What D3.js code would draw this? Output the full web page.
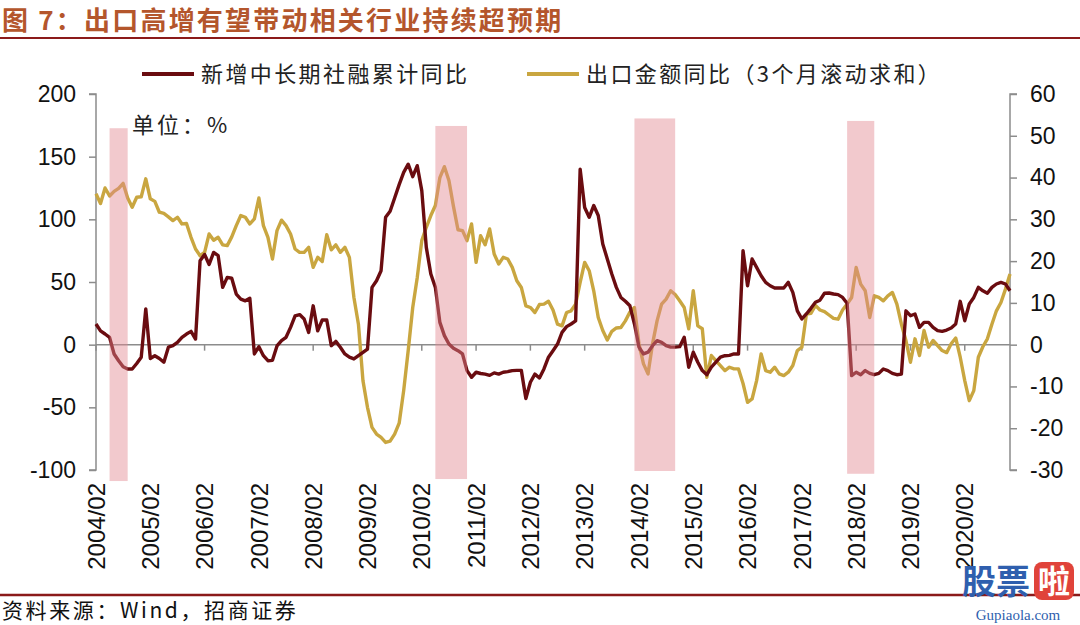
<!DOCTYPE html>
<html>
<head>
<meta charset="utf-8">
<script src="https://cdn.jsdelivr.net/npm/d3@7"></script>
<style>
  body { margin: 0; background: #fff; }
  svg { display: block; }
</style>
</head>
<body>
<div id="chart"></div>
<script>
const w = 1080;
const h = 625;

// month categories 2004/02 .. 2020/12
const months = [];
for (let y = 2004; y <= 2020; y++) {
    for (let m = (y === 2004 ? 2 : 1); m <= 12; m++) {
        months.push(y + "/" + String(m).padStart(2, "0"));
    }
}

const tickLabels = ["2004/02", "2005/02", "2006/02", "2007/02", "2008/02", "2009/02", "2010/02", "2011/02",
    "2012/02", "2013/02", "2014/02", "2015/02", "2016/02", "2017/02", "2018/02", "2019/02", "2020/02"];

const leftTicks = [200, 150, 100, 50, 0, -50, -100];
const rightTicks = [60, 50, 40, 30, 20, 10, 0, -10, -20, -30];

// 新增中长期社融累计同比 (left axis, %)
const socialFinancing = [
    16.5, 11, 8.5, 5.8, -7.4, -12.8, -17.6, -19.4, -19.4, -15, -10, 28.5,
    -11, -8.8, -11, -14, -2, -0.8, 1.9, 5.9, 8.5, 10.6, 4.5, 67,
    72, 64, 73.6, 71, 45.7, 53.7, 53, 40.4, 36.4, 35, 37, -7.4,
    -1.6, -8.8, -12.8, -12.5, -1, 3.2, 5.9, 13.8, 23, 24, 20.5, 9.8,
    31, 11, 19.7, 19.7, -0.8, 2.6, -2.1, -7.4, -10, -11.4, -8.8, -6.1,
    -3.5, 45.7, 51, 59, 101.6, 106.4, 117, 127.7, 137.5, 144, 134, 142.8,
    122.9, 77.6, 56.4, 45.7, 17.8, 7.2, 0.5, -2.9, -4.8, -7.4, -20.7, -26,
    -22, -23, -23.5, -24.5, -22.5, -23.5, -22, -21.5, -20.7, -20.5, -20.5, -43,
    -30, -23.5, -26.6, -19.4, -10, -4.8, 0.5, 9.8, 14.4, 16.5, 19, 140,
    109.5, 101.6, 111, 103, 80.3, 68.4, 56.4, 45.7, 37.7, 34.6, 31, 16.5,
    -2, -7.4, -6, -0.8, 3.2, 1.9, -0.8, -2, -2, -1.6, 5.9, -18,
    -6, -14, -20.7, -24, -18, -14, -10, -8.8, -8.5, -7.4, -7.4, 75,
    47, 68.4, 61.7, 55, 49.7, 47, 45.2, 45.2, 45.2, 49.7, 41.7, 27,
    20.5, 24.5, 29, 33.8, 35.5, 41, 41.2, 40.4, 39.9, 37.7, 33, -24.7,
    -22, -24, -20.7, -22.9, -24, -22.9, -19.4, -20.7, -22.9, -24, -23.5, 27,
    23.1, 24.5, 13.8, 17.8, 17.8, 13.8, 11.2, 10.6, 11.7, 13.3, 16.5, 34.6,
    19.1, 32.5, 37.7, 45.7, 43, 41, 45.7, 48.4, 49.7, 48.4, 43
];

// 出口金额同比（3个月滚动求和） (right axis, %)
const exportYoY = [
    36.1, 33.8, 37.5, 35.6, 36.7, 37.4, 38.6, 35.1, 32.9, 35.3, 35.4, 39.7,
    34.9, 34.3, 31.7, 31.4, 30.6, 29.7, 30.5, 28.9, 29, 25.7, 22.9, 21.3,
    22.1, 26.5, 25, 25.7, 23.9, 23.7, 25.8, 28.5, 30.9, 30.5, 28.9, 30.1,
    35.1, 28.5, 25.7, 20.5, 27.3, 29.8, 28.5, 26.5, 22.9, 22.1, 22.1, 23.3,
    18.5, 20.9, 19.9, 26.3, 22.7, 23.9, 22.1, 23.3, 20.9, 11.3, 4.9, -8.6,
    -15, -19.8, -21.4, -22.2, -23.4, -23.1, -21.4, -18.8, -11, -1.4, 8.9, 16.1,
    24.9, 28.1, 30.9, 33.3, 40, 42.6, 39.3, 33.1, 27.5, 27.3, 24.9, 28.9,
    19.7, 26.1, 23.9, 27.7, 21.7, 19.3, 20.9, 20.5, 18.5, 15.3, 13.7, 9.3,
    8.9, 7.7, 9.6, 9.7, 10.4, 8.3, 4.9, 4.5, 7.7, 8.1, 9.7, 14.9,
    19.7, 17.7, 12.9, 6.5, 3.4, 1.1, 3.2, 4, 4.1, 5.7, 7.8, 8.9,
    0.2, -4.6, -7, 0.2, 5.7, 9.7, 10.9, 12.9, 12, 10.5, 8.9, 3.8,
    12.9, 4.5, 3.8, -7.8, -2.6, -3.8, -5, -6.2, -5.4, -5.8, -5.8, -9.3,
    -13.8, -13, -8.6, -2.2, -6.2, -6.6, -5.4, -7, -7.4, -6.6, -5, -1.4,
    -0.6, 7.3, 7.5, 9.4, 8.3, 7.9, 7.1, 6.3, 6.1, 8.3, 9.7, 11.3,
    18.5, 14.5, 12.9, 6.5, 11.7, 11.3, 10.5, 11.7, 12.5, 9.7, 4.9, 1,
    -4.2, 1.4, -2.6, 3.4, -0.6, 1, -0.2, -1.4, -1.9, 0.2, 1.6, -3,
    -8.6, -13.4, -11, -3, -0.5, 1.4, 4.9, 8.1, 10.1, 13.3, 16.9
];

// shaded periods (values on left axis)
const shadedStart = ["2004/05", "2010/05", "2014/01", "2017/12"];
const shadedEnd = ["2004/09", "2010/12", "2014/10", "2018/06"];
const shadedTop = [172.7, 174.5, 180.5, 178.5];
const shadedBottom = [-108.8, -107.2, -100.8, -103];

const brown = "#6a0c10";
const gold = "#c9a640";
const axisGrey = "#8c8c8c";
const numFont = "'Liberation Sans', Arial, sans-serif";
const cjkFont = "'Noto Sans CJK SC', 'Noto Sans', sans-serif";

const svg = d3.select("#chart").append("svg")
    .attr("width", w)
    .attr("height", h);

const xScale = d3.scalePoint()
    .domain(months)
    .range([96, 1010]);

const yLeft = d3.scaleLinear().domain([-100, 200]).range([470, 94]);
const yRight = d3.scaleLinear().domain([-30, 60]).range([470, 94]);

// title
svg.append("text")
    .attr("x", 2)
    .attr("y", 30)
    .text("图 7：出口高增有望带动相关行业持续超预期")
    .style("font-family", cjkFont)
    .style("font-size", "26px")
    .style("font-weight", "bold")
    .style("letter-spacing", "2.2px")
    .style("fill", "#b4562c");

svg.append("line")
    .attr("x1", 0).attr("x2", w)
    .attr("y1", 38).attr("y2", 38)
    .style("stroke", "#8b1a1a")
    .style("stroke-width", 2);

// legend
const legend = [
    { label: "新增中长期社融累计同比", color: brown, x: 142 },
    { label: "出口金额同比（3个月滚动求和）", color: gold, x: 527 }
];
legend.forEach(d => {
    svg.append("line")
        .attr("x1", d.x).attr("x2", d.x + 52)
        .attr("y1", 74).attr("y2", 74)
        .style("stroke", d.color)
        .style("stroke-width", 4);
    svg.append("text")
        .attr("x", d.x + 59)
        .attr("y", 74)
        .attr("dy", "0.36em")
        .text(d.label)
        .style("font-family", cjkFont)
        .style("font-size", "22px")
        .style("letter-spacing", "2.4px")
        .style("fill", "#222");
});

svg.append("text")
    .attr("x", 132)
    .attr("y", 125)
    .attr("dy", "0.36em")
    .text("单位：%")
    .style("font-family", cjkFont)
    .style("font-size", "22px")
    .style("letter-spacing", "3px")
    .style("fill", "#222");

// left axis
const leftAxis = d3.axisLeft(yLeft).tickValues(leftTicks).tickSize(7).tickPadding(13)
    .tickFormat(d => String(d));
const gL = svg.append("g")
    .attr("transform", "translate(96,0)")
    .call(leftAxis);

// right axis
const rightAxis = d3.axisRight(yRight).tickValues(rightTicks).tickSize(7).tickPadding(13)
    .tickFormat(d => String(d));
const gR = svg.append("g")
    .attr("transform", "translate(1010,0)")
    .call(rightAxis);

[gL, gR].forEach(g => {
    g.select(".domain").style("stroke", axisGrey).style("stroke-width", 1.5);
    g.selectAll(".tick line").style("stroke", axisGrey).style("stroke-width", 1.5);
    g.selectAll(".tick text")
        .style("font-family", numFont)
        .style("font-size", "23px")
        .style("fill", "#111");
});
gL.select(".domain").attr("d", "M-7,94H0V470H-7");
gR.select(".domain").attr("d", "M7,94H0V470H7");

// category axis on zero line
svg.append("line")
    .attr("x1", 96).attr("x2", 1010)
    .attr("y1", yLeft(0)).attr("y2", yLeft(0))
    .style("stroke", axisGrey)
    .style("stroke-width", 1.5);

svg.selectAll(".xtick")
    .data(tickLabels)
    .enter()
    .append("line")
    .attr("class", "xtick")
    .attr("x1", d => xScale(d)).attr("x2", d => xScale(d))
    .attr("y1", yLeft(0)).attr("y2", yLeft(0) + 6)
    .style("stroke", axisGrey)
    .style("stroke-width", 1.5);

svg.selectAll(".xlabel")
    .data(tickLabels)
    .enter()
    .append("text")
    .attr("class", "xlabel")
    .attr("transform", d => `translate(${xScale(d)},483) rotate(-90)`)
    .attr("dy", "0.36em")
    .attr("text-anchor", "end")
    .text(d => d)
    .style("font-family", numFont)
    .style("font-size", "24px")
    .style("fill", "#111");

// lines
const lineLeft = d3.line()
    .x((d, i) => xScale(months[i]))
    .y(d => yLeft(d));
const lineRight = d3.line()
    .x((d, i) => xScale(months[i]))
    .y(d => yRight(d));

svg.append("path")
    .datum(exportYoY)
    .attr("d", lineRight)
    .style("fill", "none")
    .style("stroke", gold)
    .style("stroke-width", 3.4)
    .style("stroke-linejoin", "round");

svg.append("path")
    .datum(socialFinancing)
    .attr("d", lineLeft)
    .style("fill", "none")
    .style("stroke", brown)
    .style("stroke-width", 3.4)
    .style("stroke-linejoin", "round");

// shaded periods (semi transparent, drawn over the lines)
svg.selectAll(".shade")
    .data(shadedStart)
    .enter()
    .append("rect")
    .attr("class", "shade")
    .attr("x", (d, i) => xScale(d))
    .attr("width", (d, i) => xScale(shadedEnd[i]) - xScale(d))
    .attr("y", (d, i) => yLeft(shadedTop[i]))
    .attr("height", (d, i) => yLeft(shadedBottom[i]) - yLeft(shadedTop[i]))
    .style("fill", "rgb(226,135,145)")
    .style("opacity", 0.45);

// footer
svg.append("line")
    .attr("x1", 0).attr("x2", w)
    .attr("y1", 595).attr("y2", 595)
    .style("stroke", "#8b1a1a")
    .style("stroke-width", 2.5);

svg.append("text")
    .attr("x", 2)
    .attr("y", 618)
    .text("资料来源：Wind，招商证券")
    .style("font-family", cjkFont)
    .style("font-size", "21px")
    .style("letter-spacing", "2.6px")
    .style("fill", "#111");

// watermark
const wm = svg.append("g").attr("transform", "translate(962,560)");
wm.append("text")
    .attr("x", 0).attr("y", 34)
    .text("股票")
    .style("font-family", cjkFont)
    .style("font-size", "34px")
    .style("font-weight", "bold")
    .style("fill", "#2f5fae");
wm.append("rect")
    .attr("x", 72).attr("y", 2)
    .attr("width", 40).attr("height", 38)
    .attr("rx", 8)
    .style("fill", "#e0433a");
wm.append("text")
    .attr("x", 92).attr("y", 33)
    .attr("text-anchor", "middle")
    .text("啦")
    .style("font-family", cjkFont)
    .style("font-size", "32px")
    .style("font-weight", "bold")
    .style("fill", "#fff");
wm.append("text")
    .attr("x", 56).attr("y", 60)
    .attr("text-anchor", "middle")
    .text("Gupiaola.com")
    .style("font-family", "'Liberation Serif', serif")
    .style("font-size", "15px")
    .style("fill", "#2f5fae");
</script>
</body>
</html>
